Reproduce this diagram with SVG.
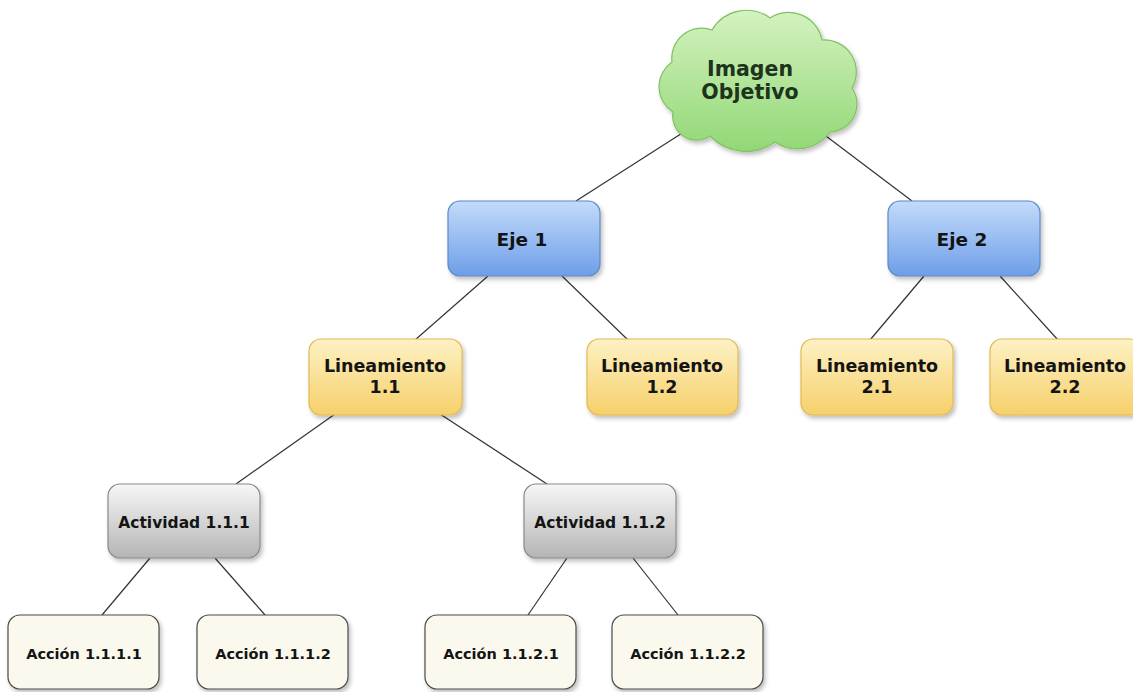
<svg xmlns="http://www.w3.org/2000/svg" width="1133" height="692" viewBox="0 0 1133 692">
<defs>
<linearGradient id="gCloud" x1="0" y1="0" x2="0" y2="1"><stop offset="0" stop-color="#d4f2c0"/><stop offset="1" stop-color="#92d876"/></linearGradient>
<linearGradient id="gEje" x1="0" y1="0" x2="0" y2="1"><stop offset="0" stop-color="#c4dbfa"/><stop offset="1" stop-color="#6d9ee8"/></linearGradient>
<linearGradient id="gLin" x1="0" y1="0" x2="0" y2="1"><stop offset="0" stop-color="#fdf1c4"/><stop offset="1" stop-color="#f6d06a"/></linearGradient>
<linearGradient id="gAct" x1="0" y1="0" x2="0" y2="1"><stop offset="0" stop-color="#f7f7f7"/><stop offset="1" stop-color="#b4b4b4"/></linearGradient>
<filter id="sh" x="-10%" y="-10%" width="125%" height="130%"><feDropShadow dx="2" dy="3" stdDeviation="2" flood-color="#000" flood-opacity="0.25"/></filter>
</defs>
<style>
.t{font-family:"DejaVu Sans",Verdana,sans-serif;font-weight:bold;text-anchor:middle;fill:#141414}
.eje{fill:url(#gEje);stroke:#5c88cc;stroke-width:1.2}
.lin{fill:url(#gLin);stroke:#e2ba55;stroke-width:1.2}
.act{fill:url(#gAct);stroke:#8a8a8a;stroke-width:1.2}
.acc{fill:#fbf9ee;stroke:#4a4a4a;stroke-width:1.2}
.c{stroke:#333;stroke-width:1.2;fill:none}
</style>
<rect width="1133" height="692" fill="#ffffff"/>
<g id="connectors">
<line class="c" x1="687" y1="130" x2="576" y2="201"/>
<line class="c" x1="818" y1="130" x2="912" y2="201"/>
<line class="c" x1="488" y1="276" x2="415" y2="340"/>
<line class="c" x1="562" y1="276" x2="628" y2="340"/>
<line class="c" x1="924" y1="276" x2="870" y2="340"/>
<line class="c" x1="1000" y1="276" x2="1058" y2="340"/>
<line class="c" x1="335" y1="414" x2="236" y2="484"/>
<line class="c" x1="440" y1="414" x2="547" y2="484"/>
<line class="c" x1="150" y1="558" x2="102" y2="615"/>
<line class="c" x1="215" y1="558" x2="265" y2="615"/>
<line class="c" x1="567" y1="558" x2="528" y2="615"/>
<line class="c" x1="633" y1="558" x2="678" y2="615"/>
</g>
<g id="imagen">
<path filter="url(#sh)" fill="url(#gCloud)" stroke="#80c262" stroke-width="1.2" d="M 710,136 A 24 24 0 0 1 673,112 A 30 30 0 0 1 672,62 A 30 30 0 0 1 712,30 A 40 40 0 0 1 770,18 A 34 34 0 0 1 822,40 A 32 32 0 0 1 852,88 A 28 28 0 0 1 830,132 A 40 40 0 0 1 775,142 A 50 50 0 0 1 710,136 Z"/>
<text class="t" x="750" y="76" font-size="20.5" style="fill:#1c331c">Imagen</text>
<text class="t" x="750" y="99" font-size="20.5" style="fill:#1c331c">Objetivo</text>
</g>
<g id="eje1"><rect class="eje" filter="url(#sh)" x="448" y="201" width="152" height="75" rx="12"/><text class="t" x="522" y="246" font-size="18.5">Eje 1</text></g>
<g id="eje2"><rect class="eje" filter="url(#sh)" x="888" y="201" width="152" height="75" rx="12"/><text class="t" x="962" y="246" font-size="18.5">Eje 2</text></g>
<g id="lin11"><rect class="lin" filter="url(#sh)" x="309" y="339" width="153" height="76" rx="12"/><text class="t" x="385" y="372" font-size="17.5">Lineamiento</text><text class="t" x="385" y="393" font-size="17.5">1.1</text></g>
<g id="lin12"><rect class="lin" filter="url(#sh)" x="587" y="339" width="151" height="76" rx="12"/><text class="t" x="662" y="372" font-size="17.5">Lineamiento</text><text class="t" x="662" y="393" font-size="17.5">1.2</text></g>
<g id="lin21"><rect class="lin" filter="url(#sh)" x="801" y="339" width="152" height="76" rx="12"/><text class="t" x="877" y="372" font-size="17.5">Lineamiento</text><text class="t" x="877" y="393" font-size="17.5">2.1</text></g>
<g id="lin22"><rect class="lin" filter="url(#sh)" x="990" y="339" width="152" height="76" rx="12"/><text class="t" x="1065" y="372" font-size="17.5">Lineamiento</text><text class="t" x="1065" y="393" font-size="17.5">2.2</text></g>
<g id="act111"><rect class="act" filter="url(#sh)" x="108" y="484" width="152" height="74" rx="12"/><text class="t" x="184" y="528" font-size="15.5">Actividad 1.1.1</text></g>
<g id="act112"><rect class="act" filter="url(#sh)" x="524" y="484" width="152" height="74" rx="12"/><text class="t" x="600" y="528" font-size="15.5">Actividad 1.1.2</text></g>
<g id="acc1111"><rect class="acc" filter="url(#sh)" x="8" y="615" width="151" height="74" rx="12"/><text class="t" x="84" y="659" font-size="14.5">Acción 1.1.1.1</text></g>
<g id="acc1112"><rect class="acc" filter="url(#sh)" x="197" y="615" width="151" height="74" rx="12"/><text class="t" x="273" y="659" font-size="14.5">Acción 1.1.1.2</text></g>
<g id="acc1121"><rect class="acc" filter="url(#sh)" x="425" y="615" width="151" height="74" rx="12"/><text class="t" x="501" y="659" font-size="14.5">Acción 1.1.2.1</text></g>
<g id="acc1122"><rect class="acc" filter="url(#sh)" x="612" y="615" width="151" height="74" rx="12"/><text class="t" x="688" y="659" font-size="14.5">Acción 1.1.2.2</text></g>
</svg>
